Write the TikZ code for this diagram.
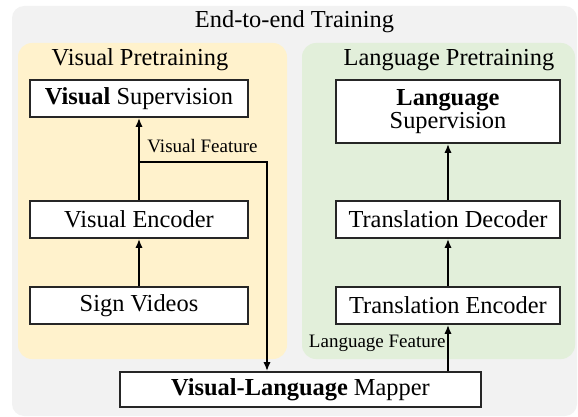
\documentclass[tikz,border=0pt]{standalone}
\usepackage{fontspec}
\setmainfont{Liberation Serif}
\usetikzlibrary{arrows.meta}
\definecolor{panelgrey}{HTML}{F2F2F2}
\definecolor{panelyellow}{HTML}{FFF2CC}
\definecolor{panelgreen}{HTML}{E2EFDA}

\begin{document}
\begin{tikzpicture}[x=0.5pt,y=-0.5pt,
  box/.style={draw=black!85,line width=0.8pt,fill=white,inner sep=0pt,
    font=\fontsize{12.2}{11.3}\selectfont,align=center},
  smallbox/.style={box,minimum width=109pt,minimum height=18.5pt},
  widebox/.style={box,minimum width=112pt,minimum height=18.5pt},
  title/.style={font=\fontsize{12.2}{14}\selectfont,inner sep=0pt},
  label/.style={font=\fontsize{9.5}{11}\selectfont,inner sep=0pt},
  arr/.style={line width=1pt,-{Latex[length=4.5pt,width=3.6pt]}}]
\useasboundingbox (0,0) rectangle (578,417);
% panels
\fill[panelgrey,rounded corners=6pt] (12,6) rectangle (577,416);
\fill[panelyellow,rounded corners=7pt] (18,43) rectangle (287,359);
\fill[panelgreen,rounded corners=7pt] (302,43) rectangle (575,359);
\node[title] (e2e) at (294.5,22) {End-to-end Training};
\node[title] (vpre) at (140,60) {Visual Pretraining};
\node[title] (lpre) at (449,60) {Language Pretraining};
% boxes
\node[smallbox] (vsup) at (139,98.5) {\textbf{Visual} Supervision};
\node[smallbox] (venc) at (139,219.5) {Visual Encoder};
\node[smallbox] (sign) at (139,305.5) {Sign Videos};
\node[widebox,minimum height=31.5pt] (lsup) at (448,111.5) {\textbf{Language}\\Supervision};
\node[widebox] (tdec) at (448,219.5) {Translation Decoder};
\node[widebox] (tenc) at (448,305.5) {Translation Encoder};
\node[box,minimum width=180.5pt,minimum height=17.5pt] (mapper) at (300.5,389.5) {\textbf{Visual-Language} Mapper};
% connectors
\coordinate (vf) at (267,162);
\node[label,anchor=west] (vflab) at (147,146) {Visual Feature};
\node[label,anchor=east] (lflab) at (446,343) {Language Feature};
\draw[arr] (sign) -- (venc);
\draw[arr] (venc) -- (vsup);
\draw[arr] (venc.north |- vf) -- (vf) -- (vf |- mapper.north);
\draw[arr] (mapper.north -| tenc) -- (tenc);
\draw[arr] (tenc) -- (tdec);
\draw[arr] (tdec) -- (lsup);
\end{tikzpicture}
\end{document}
